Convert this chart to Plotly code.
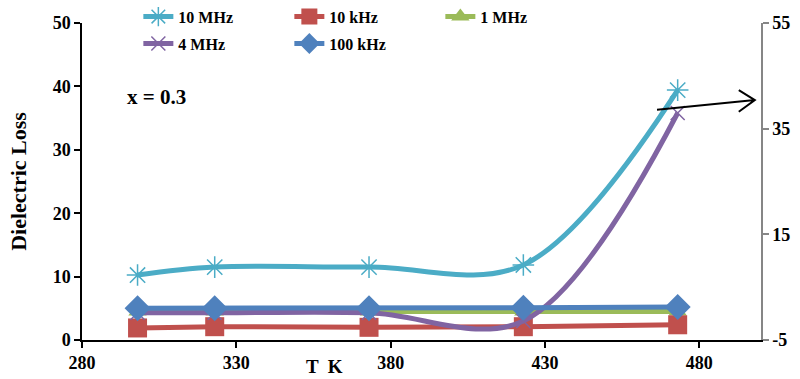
import plotly.graph_objects as go

# Temperature (K) and dielectric loss at each measuring frequency
temperature = [298, 323, 373, 423, 473]
loss_10mhz = [7.3, 8.8, 8.8, 9.2, 42.3]      # read on the right-hand axis
loss_10khz = [1.9, 2.1, 2.0, 2.1, 2.4]
loss_1mhz = [4.5, 4.5, 4.5, 4.5, 4.5]
loss_4mhz = [4.3, 4.3, 4.3, 3.0, 35.8]
loss_100khz = [5.0, 5.0, 5.0, 5.1, 5.2]

x_ticks = [280, 330, 380, 430, 480]
y_ticks = [0, 10, 20, 30, 40, 50]
y2_ticks = [-5, 15, 35, 55]

SERIF = "Liberation Serif"
C_TEAL = "#4BACC6"
C_RED = "#C0504D"
C_GREEN = "#9BBB59"
C_PURPLE = "#8064A2"
C_BLUE = "#4F81BD"

fig = go.Figure()

fig.add_trace(go.Scatter(
    x=temperature, y=loss_10mhz, name="10 MHz", yaxis="y2",
    mode="lines+markers", line=dict(color=C_TEAL, width=5, shape="spline", smoothing=1),
    marker=dict(symbol="asterisk-open", size=18, line=dict(color=C_TEAL, width=1.5)),
    legend="legend", legendrank=1,
))
fig.add_trace(go.Scatter(
    x=temperature, y=loss_1mhz, name="1 MHz",
    mode="lines+markers", line=dict(color=C_GREEN, width=5),
    marker=dict(symbol="triangle-up", size=16, color=C_GREEN),
    legend="legend", legendrank=3,
))
fig.add_trace(go.Scatter(
    x=temperature, y=loss_10khz, name="10 kHz",
    mode="lines+markers", line=dict(color=C_RED, width=5),
    marker=dict(symbol="square", size=19, color=C_RED),
    legend="legend", legendrank=2,
))
fig.add_trace(go.Scatter(
    x=temperature, y=loss_4mhz, name="4 MHz",
    mode="lines+markers", line=dict(color=C_PURPLE, width=5, shape="spline", smoothing=1),
    marker=dict(symbol="x-thin-open", size=14, line=dict(color=C_PURPLE, width=1.5)),
    legend="legend2", legendrank=1,
))
fig.add_trace(go.Scatter(
    x=temperature, y=loss_100khz, name="100 kHz",
    mode="lines+markers", line=dict(color=C_BLUE, width=5),
    marker=dict(symbol="diamond", size=20, color=C_BLUE),
    legend="legend2", legendrank=2,
))

legend_font = dict(family=SERIF, size=16, color="black", weight="bold")
tick_font = dict(family=SERIF, size=18, color="black", weight="bold")

fig.update_layout(
    width=800, height=379,
    margin=dict(l=82, r=39, t=23, b=39, autoexpand=False),
    paper_bgcolor="white", plot_bgcolor="white",
    legend=dict(orientation="h", x=0.083, y=1.02, xanchor="left", yanchor="middle",
                font=legend_font, entrywidth=106, bgcolor="rgba(0,0,0,0)"),
    legend2=dict(orientation="h", x=0.083, y=0.935, xanchor="left", yanchor="middle",
                 font=legend_font, entrywidth=106, bgcolor="rgba(0,0,0,0)"),
    xaxis=dict(range=[280, 500], tickvals=x_ticks, ticks="outside", ticklen=6,
               tickcolor="black", tickwidth=1.5, showline=True, linecolor="black",
               linewidth=1.5, showgrid=False, zeroline=False, tickfont=tick_font),
    yaxis=dict(range=[0, 50], tickvals=y_ticks, ticks="outside", ticklen=6,
               tickcolor="black", tickwidth=1.5, showline=True, linecolor="black",
               linewidth=1.5, showgrid=False, zeroline=False, tickfont=tick_font,
               title=dict(text="Dielectric Loss", standoff=20,
                          font=dict(family=SERIF, size=22, color="black", weight="bold"))),
    yaxis2=dict(range=[-5, 55], overlaying="y", side="right", tickvals=y2_ticks,
                ticktext=[str(v) for v in y2_ticks], ticks="outside", ticklen=6,
                tickcolor="#868686", tickwidth=1.5, showline=True, linecolor="#868686",
                linewidth=1.5, showgrid=False, zeroline=False, tickfont=tick_font),
)

# Composition label and x-axis title
fig.add_annotation(text="x = 0.3", x=0.063, y=0.765, xref="paper", yref="paper",
                   xanchor="left", yanchor="middle", showarrow=False,
                   font=dict(family=SERIF, size=21, color="black", weight="bold"))
fig.add_annotation(text="T  K", x=358.7, y=-0.085, xref="x", yref="paper",
                   xanchor="center", yanchor="middle", showarrow=False,
                   font=dict(family=SERIF, size=19, color="black", weight="bold"))

# Arrow pointing the 10 MHz curve to the right-hand axis
fig.add_shape(type="path", xref="x", yref="y",
              path="M466.3,36.3 L498.0,37.85 M492.8,39.4 L498.0,37.85 L492.8,36.0",
              line=dict(color="black", width=2))

fig.write_html("out.html")
